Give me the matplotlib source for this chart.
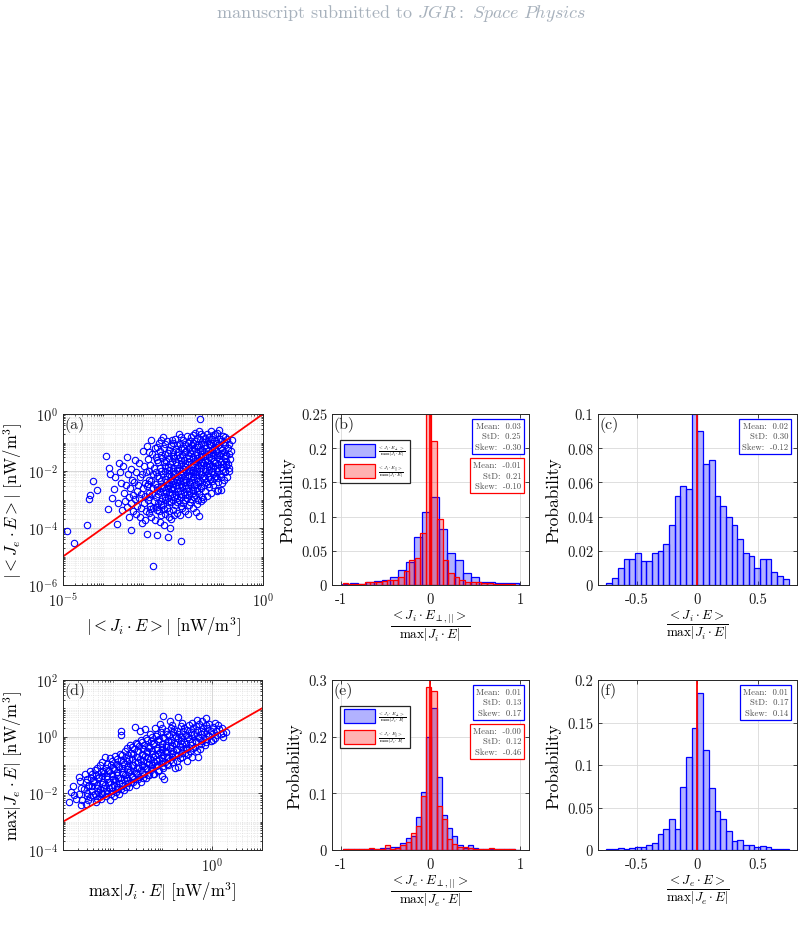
import numpy as np
import matplotlib
matplotlib.use('Agg')
import matplotlib.pyplot as plt
from matplotlib.patches import Patch
from matplotlib.ticker import FuncFormatter, LogLocator, NullFormatter

plt.rcParams['font.family'] = ['cmr10', 'DejaVu Serif']
plt.rcParams['mathtext.fontset'] = 'cm'
plt.rcParams['axes.unicode_minus'] = False
plt.rcParams['axes.formatter.use_mathtext'] = True

# ---------------- data ----------------
# (a) scatter, log10 of |<Ji.E>| and |<Je.E>|  [nW/m^3]
a_log_pts = [
    (-4.89, -4.12), (-4.73, -4.52), (-4.40, -3.90), (-4.33, -2.85), (-4.25, -2.35), (-4.14, -2.65), (-4.36, -2.97),
    (-3.92, -1.46), (-3.85, -1.88), (-3.83, -2.12), (-3.88, -3.34), (-3.65, -3.85), (-3.72, -2.62), (-3.77, -2.93),
    (-3.69, -2.21), (-3.61, -1.72), (-3.63, -3.12), (-3.56, -2.41), (-3.58, -2.02), (-3.52, -3.38), (-3.49, -1.84),
    (-3.47, -2.76), (-3.45, -3.04),
    (-3.41, -1.52), (-3.38, -2.12), (-3.43, -2.48), (-3.36, -2.91), (-3.40, -3.28), (-3.35, -3.62),
    (-3.31, -1.93), (-3.27, -2.31), (-3.33, -2.58), (-3.26, -2.83), (-3.29, -3.12), (-3.24, -3.41), (-3.30, -4.08),
    (-3.21, -1.62), (-3.17, -2.03), (-3.23, -2.38), (-3.15, -2.71), (-3.19, -2.98), (-3.14, -3.22), (-3.18, -3.52),
    (-3.11, -1.71), (-3.07, -2.21), (-3.12, -2.49), (-3.05, -2.79), (-3.09, -2.96), (-3.04, -3.31), (-3.08, -3.63),
    (-3.02, -3.82),
    (-3.01, -1.31), (-2.97, -1.82), (-3.02, -2.11), (-2.95, -2.42), (-2.99, -2.61), (-2.94, -2.88), (-2.98, -3.12),
    (-2.93, -3.41), (-2.96, -3.72),
    (-2.91, -1.12), (-2.87, -1.58), (-2.92, -2.02), (-2.85, -2.31), (-2.89, -2.53), (-2.84, -2.77), (-2.88, -3.01),
    (-2.83, -3.22), (-2.86, -3.48), (-2.90, -4.21),
    (-2.81, -0.91), (-2.77, -1.42), (-2.82, -1.79), (-2.75, -2.12), (-2.79, -2.36), (-2.74, -2.58), (-2.78, -2.82),
    (-2.73, -3.06), (-2.76, -3.29), (-2.80, -3.61), (-2.64, -4.24),
    (-2.71, -1.21), (-2.67, -1.52), (-2.72, -1.88), (-2.65, -2.19), (-2.69, -2.44), (-2.64, -2.66), (-2.68, -2.91),
    (-2.63, -3.11), (-2.66, -3.36), (-2.70, -3.71), (-2.75, -5.34),
    (-2.61, -1.02), (-2.57, -1.31), (-2.62, -1.69), (-2.55, -2.01), (-2.59, -2.24), (-2.54, -2.51), (-2.58, -2.71),
    (-2.53, -2.94), (-2.56, -3.16), (-2.60, -3.41), (-2.57, -3.79),
    (-2.51, -0.82), (-2.47, -1.19), (-2.52, -1.56), (-2.45, -1.84), (-2.49, -2.11), (-2.44, -2.29), (-2.48, -2.56),
    (-2.43, -2.74), (-2.46, -3.01), (-2.50, -3.19), (-2.45, -3.52), (-2.48, -3.91),
    (-2.41, -0.96), (-2.37, -1.36), (-2.42, -1.64), (-2.35, -1.96), (-2.39, -2.19), (-2.34, -2.41), (-2.38, -2.61),
    (-2.33, -2.84), (-2.36, -3.06), (-2.40, -3.29), (-2.35, -3.61), (-2.37, -4.32),
    (-2.27, -0.91), (-2.31, -1.09), (-2.26, -1.46), (-2.32, -1.74), (-2.25, -2.01), (-2.29, -2.19), (-2.24, -2.46),
    (-2.28, -2.64), (-2.23, -2.91), (-2.30, -3.09), (-2.26, -3.36), (-2.29, -3.69), (-2.33, -4.01),
    (-2.21, -0.86), (-2.17, -1.24), (-2.22, -1.56), (-2.15, -1.79), (-2.19, -2.06), (-2.14, -2.31), (-2.18, -2.49),
    (-2.13, -2.71), (-2.16, -2.94), (-2.20, -3.21), (-2.15, -3.49),
    (-2.11, -0.71), (-2.07, -1.06), (-2.12, -1.34), (-2.05, -1.61), (-2.09, -1.89), (-2.04, -2.11), (-2.08, -2.34),
    (-2.03, -2.56), (-2.06, -2.79), (-2.10, -3.01), (-2.05, -3.24), (-2.08, -3.56),
    (-2.01, -0.91), (-1.97, -1.21), (-2.02, -1.44), (-1.95, -1.71), (-1.99, -1.94), (-1.94, -2.16), (-1.98, -2.39),
    (-1.93, -2.61), (-1.96, -2.84), (-2.00, -3.11), (-1.95, -3.39), (-2.04, -4.47),
    (-1.91, -0.76), (-1.87, -1.01), (-1.92, -1.29), (-1.85, -1.56), (-1.89, -1.74), (-1.84, -2.01), (-1.88, -2.19),
    (-1.83, -2.46), (-1.86, -2.69), (-1.90, -2.96), (-1.85, -3.19), (-1.88, -3.51),
    (-1.81, -0.81), (-1.77, -1.09), (-1.82, -1.36), (-1.75, -1.59), (-1.79, -1.86), (-1.74, -2.04), (-1.78, -2.31),
    (-1.73, -2.49), (-1.76, -2.76), (-1.80, -2.99), (-1.75, -3.31),
    (-1.71, -0.66), (-1.67, -0.94), (-1.72, -1.21), (-1.65, -1.44), (-1.69, -1.66), (-1.64, -1.89), (-1.68, -2.11),
    (-1.63, -2.34), (-1.66, -2.61), (-1.70, -2.84), (-1.65, -3.16), (-1.68, -3.44),
    (-1.61, -0.61), (-1.57, -0.89), (-1.62, -1.16), (-1.55, -1.39), (-1.59, -1.61), (-1.54, -1.79), (-1.58, -2.01),
    (-1.53, -2.24), (-1.56, -2.51), (-1.60, -2.79), (-1.55, -3.06), (-1.60, -3.58), (-1.58, -0.19),
    (-1.51, -0.76), (-1.47, -0.99), (-1.52, -1.26), (-1.45, -1.49), (-1.49, -1.71), (-1.44, -1.94), (-1.48, -2.16),
    (-1.43, -2.39), (-1.46, -2.71), (-1.50, -2.99),
    (-1.41, -0.71), (-1.37, -0.94), (-1.42, -1.21), (-1.35, -1.39), (-1.39, -1.66), (-1.34, -1.84), (-1.38, -2.06),
    (-1.33, -2.29), (-1.36, -2.56), (-1.40, -2.89),
    (-1.31, -0.61), (-1.27, -0.86), (-1.32, -1.09), (-1.25, -1.36), (-1.29, -1.54), (-1.24, -1.81), (-1.28, -1.99),
    (-1.23, -2.26), (-1.26, -2.49), (-1.30, -2.76),
    (-1.21, -0.71), (-1.17, -0.94), (-1.22, -1.21), (-1.15, -1.44), (-1.19, -1.71), (-1.14, -1.89), (-1.18, -2.16),
    (-1.13, -2.39), (-1.16, -2.71), (-1.12, -2.65),
    (-1.11, -0.56), (-1.07, -0.86), (-1.12, -1.09), (-1.05, -1.36), (-1.09, -1.59), (-1.04, -1.86), (-1.08, -2.09),
    (-1.03, -2.41), (-1.06, -2.66),
    (-1.01, -0.76), (-0.97, -0.99), (-1.02, -1.26), (-0.95, -1.49), (-0.99, -1.76), (-0.94, -1.99), (-0.98, -2.31),
    (-0.91, -0.89), (-0.87, -1.21), (-0.92, -1.44), (-0.92, -1.64), (-0.85, -1.91), (-0.89, -2.21),
    (-0.77, -0.91), (-0.81, -1.31), (-0.83, -1.59),
    # denser core
    (-2.86, -1.35), (-2.84, -2.0), (-2.87, -2.45), (-2.85, -2.9), (-2.83, -3.35),
    (-2.66, -1.15), (-2.64, -1.6), (-2.67, -2.05), (-2.65, -2.55), (-2.63, -2.8), (-2.66, -3.25),
    (-2.56, -0.9), (-2.54, -1.45), (-2.57, -1.9), (-2.55, -2.35), (-2.53, -2.6), (-2.56, -3.05), (-2.54, -3.55),
    (-2.46, -1.05), (-2.44, -1.4), (-2.47, -1.7), (-2.45, -2.0), (-2.43, -2.4), (-2.46, -2.65), (-2.44, -2.9),
    (-2.47, -3.35),
    (-2.36, -1.25), (-2.34, -1.55), (-2.37, -1.85), (-2.35, -2.1), (-2.33, -2.3), (-2.36, -2.5), (-2.34, -2.75),
    (-2.37, -2.95), (-2.35, -3.4),
    (-2.26, -1.0), (-2.24, -1.35), (-2.27, -1.65), (-2.25, -1.9), (-2.23, -2.1), (-2.26, -2.35), (-2.24, -2.55),
    (-2.27, -2.8), (-2.25, -3.0), (-2.23, -3.55),
    (-2.16, -1.1), (-2.14, -1.45), (-2.17, -1.7), (-2.15, -1.95), (-2.13, -2.2), (-2.16, -2.4), (-2.14, -2.6),
    (-2.17, -2.85), (-2.15, -3.1),
    (-2.06, -0.8), (-2.04, -1.2), (-2.07, -1.5), (-2.05, -1.75), (-2.03, -2.0), (-2.06, -2.25), (-2.04, -2.45),
    (-2.07, -2.7), (-2.05, -2.9), (-2.03, -3.3),
    (-1.96, -1.05), (-1.94, -1.35), (-1.97, -1.6), (-1.95, -1.85), (-1.93, -2.05), (-1.96, -2.3), (-1.94, -2.5),
    (-1.97, -2.75), (-1.95, -3.0),
    (-1.86, -0.95), (-1.84, -1.2), (-1.87, -1.45), (-1.85, -1.7), (-1.83, -1.95), (-1.86, -2.15), (-1.84, -2.4),
    (-1.87, -2.6), (-1.85, -2.85), (-1.83, -3.1),
    (-1.76, -0.75), (-1.74, -1.0), (-1.77, -1.25), (-1.75, -1.5), (-1.73, -1.75), (-1.76, -1.95), (-1.74, -2.2),
    (-1.77, -2.4), (-1.75, -2.65), (-1.73, -2.9),
    (-1.66, -0.85), (-1.64, -1.1), (-1.67, -1.35), (-1.65, -1.55), (-1.63, -1.8), (-1.66, -2.0), (-1.64, -2.25),
    (-1.67, -2.45), (-1.65, -2.7), (-1.63, -3.0),
    (-1.56, -0.7), (-1.54, -1.05), (-1.57, -1.3), (-1.55, -1.5), (-1.53, -1.7), (-1.56, -1.9), (-1.54, -2.1),
    (-1.57, -2.35), (-1.55, -2.6), (-1.53, -2.9),
    (-1.46, -0.85), (-1.44, -1.1), (-1.47, -1.35), (-1.45, -1.6), (-1.43, -1.8), (-1.46, -2.0), (-1.44, -2.25),
    (-1.47, -2.5),
    (-1.36, -0.8), (-1.34, -1.05), (-1.37, -1.3), (-1.35, -1.5), (-1.33, -1.75), (-1.36, -1.95), (-1.34, -2.2),
    (-1.37, -2.45),
    (-1.26, -0.75), (-1.24, -1.0), (-1.27, -1.25), (-1.25, -1.45), (-1.23, -1.65), (-1.26, -1.9), (-1.24, -2.1),
    (-1.27, -2.35),
    (-1.16, -0.65), (-1.14, -1.0), (-1.17, -1.3), (-1.15, -1.5), (-1.13, -1.75), (-1.16, -2.0), (-1.14, -2.25),
    (-1.06, -0.95), (-1.04, -1.2), (-1.07, -1.45), (-1.05, -1.7), (-1.03, -1.95), (-1.06, -2.2),
    (-0.96, -0.8), (-0.94, -1.1), (-0.97, -1.35), (-0.95, -1.55), (-0.93, -1.8), (-0.96, -2.05),
    (-0.86, -1.05), (-0.84, -1.4), (-0.87, -1.75), (-0.85, -2.0),
]

# (d) scatter, log10 of max|Ji.E| and max|Je.E|  [nW/m^3]
d_log_pts = [
    (-2.88, -2.32), (-2.84, -1.96),
    (-2.68, -1.41), (-2.79, -1.75), (-2.77, -2.06), (-2.73, -2.21),
    (-2.66, -1.56), (-2.63, -1.81), (-2.67, -2.01), (-2.61, -2.24), (-2.64, -2.41),
    (-2.56, -1.31), (-2.53, -1.61), (-2.57, -1.86), (-2.52, -2.09), (-2.54, -2.38),
    (-2.46, -1.21), (-2.43, -1.46), (-2.47, -1.69), (-2.42, -1.91), (-2.45, -2.14), (-2.33, -2.32),
    (-2.36, -1.16), (-2.33, -1.36), (-2.37, -1.59), (-2.32, -1.81), (-2.35, -2.01), (-2.31, -2.19),
    (-2.26, -1.01), (-2.23, -1.26), (-2.27, -1.44), (-2.22, -1.66), (-2.25, -1.86), (-2.21, -2.04), (-2.24, -2.21),
    (-2.16, -0.71), (-2.13, -1.11), (-2.17, -1.29), (-2.12, -1.51), (-2.15, -1.69), (-2.11, -1.91), (-2.14, -2.09),
    (-2.06, -0.76), (-2.03, -0.99), (-2.07, -1.21), (-2.02, -1.39), (-2.05, -1.61), (-2.01, -1.79), (-2.04, -2.01),
    (-2.06, -2.22),
    (-1.96, -0.69), (-1.93, -0.96), (-1.97, -1.14), (-1.92, -1.36), (-1.95, -1.54), (-1.91, -1.76), (-1.94, -1.94),
    (-1.98, -2.11),
    (-1.83, 0.21), (-1.83, 0.07), (-1.86, -0.61), (-1.83, -0.84), (-1.87, -1.06), (-1.82, -1.24), (-1.85, -1.46),
    (-1.81, -1.64), (-1.84, -1.86), (-1.88, -2.01),
    (-1.76, -0.51), (-1.73, -0.74), (-1.77, -0.96), (-1.72, -1.14), (-1.75, -1.36), (-1.71, -1.54), (-1.74, -1.76),
    (-1.78, -1.89),
    (-1.66, -0.31), (-1.63, -0.56), (-1.67, -0.79), (-1.62, -1.01), (-1.65, -1.19), (-1.61, -1.41), (-1.64, -1.59),
    (-1.68, -1.76),
    (-1.56, 0.33), (-1.53, -0.21), (-1.57, -0.44), (-1.52, -0.71), (-1.55, -0.89), (-1.51, -1.11), (-1.54, -1.29),
    (-1.58, -1.51), (-1.53, -1.69),
    (-1.46, 0.19), (-1.43, -0.11), (-1.47, -0.34), (-1.42, -0.61), (-1.45, -0.79), (-1.41, -1.01), (-1.44, -1.19),
    (-1.48, -1.41), (-1.43, -1.59),
    (-1.36, 0.26), (-1.33, -0.06), (-1.37, -0.29), (-1.32, -0.51), (-1.35, -0.69), (-1.31, -0.91), (-1.34, -1.09),
    (-1.38, -1.31), (-1.33, -1.46),
    (-1.26, 0.09), (-1.23, -0.16), (-1.27, -0.39), (-1.22, -0.61), (-1.25, -0.79), (-1.21, -1.01), (-1.24, -1.19),
    (-1.28, -1.36),
    (-1.16, 0.31), (-1.13, 0.01), (-1.17, -0.24), (-1.12, -0.46), (-1.15, -0.64), (-1.11, -0.86), (-1.14, -1.04),
    (-1.18, -1.31),
    (-1.06, 0.44), (-1.03, 0.16), (-1.07, -0.09), (-1.02, -0.36), (-1.05, -0.54), (-1.01, -0.76), (-1.04, -0.94),
    (-1.08, -1.16), (-1.02, -1.39),
    (-0.99, 0.74), (-0.93, 0.21), (-0.97, -0.04), (-0.92, -0.31), (-0.95, -0.49), (-0.91, -0.71), (-0.94, -0.89),
    (-0.98, -1.11), (-0.96, -1.51),
    (-0.84, 0.56), (-0.83, 0.31), (-0.87, 0.06), (-0.82, -0.19), (-0.85, -0.41), (-0.81, -0.59), (-0.84, -0.81),
    (-0.88, -1.01),
    (-0.76, 0.26), (-0.73, 0.01), (-0.77, -0.24), (-0.72, -0.46), (-0.75, -0.64), (-0.71, -0.86), (-0.74, -1.11),
    (-0.68, 0.71), (-0.63, 0.36), (-0.67, 0.11), (-0.62, -0.16), (-0.65, -0.34), (-0.61, -0.56), (-0.64, -0.76),
    (-0.69, -1.08),
    (-0.56, 0.31), (-0.53, 0.06), (-0.57, -0.19), (-0.52, -0.41), (-0.55, -0.59), (-0.51, -0.86),
    (-0.46, 0.41), (-0.43, 0.16), (-0.47, -0.09), (-0.42, -0.31), (-0.45, -0.49), (-0.41, -0.71),
    (-0.31, 0.60), (-0.33, 0.36), (-0.37, 0.11), (-0.32, -0.16), (-0.35, -0.36), (-0.29, -0.73),
    (-0.26, 0.46), (-0.23, 0.21), (-0.27, -0.04), (-0.22, -0.26), (-0.25, -0.44),
    (-0.12, 0.65), (-0.13, 0.41), (-0.17, 0.16), (-0.12, -0.09), (-0.15, -0.29),
    (-0.06, 0.46), (-0.03, 0.19), (-0.07, 0.01), (-0.02, -0.14),
    (0.05, 0.47), (0.08, 0.21), (0.05, -0.05),
    (0.14, 0.26), (0.17, 0.11), (0.28, 0.18), (0.21, 0.14),
    # denser band
    (-2.51, -1.5), (-2.49, -1.75), (-2.52, -2.0), (-2.50, -2.25),
    (-2.41, -1.3), (-2.39, -1.55), (-2.42, -1.75), (-2.40, -2.05),
    (-2.31, -1.1), (-2.29, -1.45), (-2.32, -1.7), (-2.30, -1.95), (-2.28, -2.1),
    (-2.21, -0.9), (-2.19, -1.2), (-2.22, -1.4), (-2.20, -1.6), (-2.18, -1.8), (-2.21, -2.0),
    (-2.11, -0.95), (-2.09, -1.2), (-2.12, -1.4), (-2.10, -1.6), (-2.08, -1.8), (-2.11, -2.0),
    (-2.01, -0.85), (-1.99, -1.1), (-2.02, -1.3), (-2.00, -1.5), (-1.98, -1.7), (-2.01, -1.9),
    (-1.91, -0.8), (-1.89, -1.05), (-1.92, -1.25), (-1.90, -1.45), (-1.88, -1.65), (-1.91, -1.85),
    (-1.81, -0.65), (-1.79, -0.9), (-1.82, -1.1), (-1.80, -1.3), (-1.78, -1.5), (-1.81, -1.75),
    (-1.71, -0.4), (-1.69, -0.65), (-1.72, -0.85), (-1.70, -1.05), (-1.68, -1.25), (-1.71, -1.45), (-1.69, -1.65),
    (-1.61, -0.35), (-1.59, -0.6), (-1.62, -0.8), (-1.60, -1.0), (-1.58, -1.2), (-1.61, -1.4), (-1.59, -1.6),
    (-1.51, -0.25), (-1.49, -0.5), (-1.52, -0.7), (-1.50, -0.9), (-1.48, -1.1), (-1.51, -1.3), (-1.49, -1.5),
    (-1.41, -0.2), (-1.39, -0.45), (-1.42, -0.65), (-1.40, -0.85), (-1.38, -1.05), (-1.41, -1.25), (-1.39, -1.45),
    (-1.31, -0.1), (-1.29, -0.35), (-1.32, -0.55), (-1.30, -0.75), (-1.28, -0.95), (-1.31, -1.15), (-1.29, -1.35),
    (-1.21, 0.0), (-1.19, -0.25), (-1.22, -0.5), (-1.20, -0.7), (-1.18, -0.9), (-1.21, -1.1), (-1.19, -1.3),
    (-1.11, 0.1), (-1.09, -0.15), (-1.12, -0.4), (-1.10, -0.6), (-1.08, -0.8), (-1.11, -1.0), (-1.09, -1.2),
    (-1.01, 0.3), (-0.99, 0.0), (-1.02, -0.25), (-1.00, -0.45), (-0.98, -0.65), (-1.01, -0.85), (-0.99, -1.05),
    (-0.91, 0.1), (-0.89, -0.15), (-0.92, -0.35), (-0.90, -0.55), (-0.88, -0.75), (-0.91, -0.95),
    (-0.81, 0.4), (-0.79, 0.15), (-0.82, -0.1), (-0.80, -0.3), (-0.78, -0.5), (-0.81, -0.7), (-0.79, -0.9),
    (-0.71, 0.2), (-0.69, -0.05), (-0.72, -0.25), (-0.70, -0.45), (-0.68, -0.65),
    (-0.61, 0.5), (-0.59, 0.2), (-0.62, 0.0), (-0.60, -0.25), (-0.58, -0.45), (-0.61, -0.7),
    (-0.51, 0.25), (-0.49, 0.0), (-0.52, -0.25), (-0.50, -0.45), (-0.48, -0.6),
    (-0.41, 0.5), (-0.39, 0.3), (-0.42, 0.05), (-0.40, -0.2), (-0.38, -0.4),
    (-0.31, 0.25), (-0.29, 0.0), (-0.32, -0.2), (-0.30, -0.5),
    (-0.21, 0.55), (-0.19, 0.3), (-0.22, 0.1), (-0.20, -0.15),
    (-0.11, 0.3), (-0.09, 0.05), (-0.12, -0.2),
    (0.01, 0.35), (-0.01, 0.1), (0.02, -0.1),
    (0.11, 0.4), (0.09, 0.05), (0.19, 0.3), (0.21, 0.0),
]

# (b) ion histograms: perpendicular (blue) and parallel (red)
b_perp_edges = np.linspace(-0.99, 0.99, 23)
b_perp_prob = [0.001, 0.003, 0.002, 0.004, 0.006, 0.008, 0.012, 0.022, 0.033, 0.070, 0.107,
               0.128, 0.082, 0.047, 0.037, 0.018, 0.011, 0.005, 0.004, 0.003, 0.003, 0.003]
b_par_edges = np.linspace(-0.981, 1.003, 33)
b_par_prob = [0.003, 0.001, 0.001, 0.002, 0.004, 0.004, 0.005, 0.006, 0.008, 0.007, 0.011,
              0.020, 0.036, 0.040, 0.076, 0.250, 0.210, 0.097, 0.036, 0.018, 0.012, 0.007,
              0.005, 0.004, 0.004, 0.003, 0.003, 0.002, 0.001, 0.001, 0.001, 0.0]

# (c) ion total histogram
c_edges = np.linspace(-0.75, 0.75, 33)
c_prob = [0.001, 0.004, 0.010, 0.015, 0.015, 0.019, 0.014, 0.014, 0.019, 0.020, 0.024,
          0.035, 0.052, 0.058, 0.056, 0.100, 0.090, 0.071, 0.073, 0.052, 0.046, 0.040,
          0.035, 0.027, 0.019, 0.017, 0.010, 0.015, 0.015, 0.0075, 0.0055, 0.0035]

# (e) electron histograms: perpendicular (blue) and parallel (red)
e_edges = np.linspace(-0.975, 0.997, 35)
e_perp_prob = [0.001, 0.001, 0.001, 0.001, 0.001, 0.002, 0.001, 0.003, 0.003, 0.005, 0.006,
               0.013, 0.022, 0.025, 0.058, 0.103, 0.200, 0.250, 0.128, 0.062, 0.038, 0.025,
               0.008, 0.004, 0.009, 0.003, 0.002, 0.002, 0.001, 0.001, 0.001, 0.001, 0.001, 0.0005]
e_par_prob = [0.001, 0.001, 0.001, 0.002, 0.001, 0.004, 0.001, 0.002, 0.008, 0.002, 0.003,
              0.008, 0.015, 0.030, 0.043, 0.095, 0.287, 0.281, 0.078, 0.054, 0.020, 0.010,
              0.006, 0.005, 0.003, 0.002, 0.001, 0.002, 0.003, 0.001, 0.001, 0.001, 0.001, 0.0005]

# (f) electron total histogram
f_edges = np.linspace(-0.75, 0.75, 33)
f_prob = [0.001, 0.001, 0.002, 0.001, 0.002, 0.003, 0.003, 0.006, 0.008, 0.019, 0.025,
          0.037, 0.025, 0.074, 0.110, 0.144, 0.185, 0.118, 0.073, 0.046, 0.037, 0.022,
          0.011, 0.012, 0.006, 0.006, 0.003, 0.005, 0.003, 0.001, 0.001, 0.001]

# stats printed in the boxes: (mean, std, skew)
b_perp_stats = ('0.03', '0.25', '-0.30')
b_par_stats = ('-0.01', '0.21', '-0.10')
c_stats = ('0.02', '0.30', '-0.12')
e_perp_stats = ('0.01', '0.13', '0.17')
e_par_stats = ('-0.00', '0.12', '-0.46')
f_stats = ('0.01', '0.17', '0.14')

BLUE = (0, 0, 1)
RED = (1, 0, 0)

# ---------------- figure ----------------
W, H = 803, 937
fig = plt.figure(figsize=(W / 100, H / 100), dpi=100)


def add_ax(left, right, top, bottom):
    # pixel box -> figure fraction
    return fig.add_axes([left / W, 1 - bottom / H, (right - left) / W, (bottom - top) / H])


def style(ax):
    ax.tick_params(which='both', direction='in', top=True, right=True, labelsize=10.5,
                   width=0.6, colors='0.15', labelcolor='0.1')
    ax.tick_params(which='major', length=3)
    ax.tick_params(which='minor', length=1.6)
    ax.tick_params(axis='x', pad=5)
    for s in ax.spines.values():
        s.set_linewidth(0.7)
        s.set_color('0.15')
    ax.set_axisbelow(True)


def panel_label(ax, s):
    ax.text(0.008, 0.99, s, transform=ax.transAxes, ha='left', va='top', fontsize=11.5, color='0.15')


def fmt_g(v, pos):
    return '{:g}'.format(v)


def scatter_panel(ax, pts, xlim, ylim, xticks, yticks, xlabel, ylabel, label):
    arr = 10.0 ** np.array(pts)
    ax.set_xscale('log')
    ax.set_yscale('log')
    ax.grid(True, which='major', color='0.82', lw=0.6)
    ax.grid(True, which='minor', color='0.85', lw=0.5, ls=':')
    ax.plot(arr[:, 0], arr[:, 1], 'o', mfc='none', mec='b', ms=4.6, mew=0.8)
    xs = np.array(xlim)
    ax.plot(xs, xs, color='r', lw=1.3)
    ax.set_xlim(xlim)
    ax.set_ylim(ylim)
    ax.set_xticks(xticks)
    ax.set_yticks(yticks)
    ax.xaxis.set_minor_locator(LogLocator(base=10, subs=np.arange(1, 10), numticks=100))
    ax.yaxis.set_minor_locator(LogLocator(base=10, subs=np.arange(1, 10), numticks=100))
    ax.xaxis.set_minor_formatter(NullFormatter())
    ax.yaxis.set_minor_formatter(NullFormatter())
    ax.set_xlabel(xlabel, fontsize=12, labelpad=3)
    ax.set_ylabel(ylabel, fontsize=12, labelpad=2)
    style(ax)
    panel_label(ax, label)


def hist(ax, edges, prob, color):
    ax.bar(edges[:-1], prob, width=np.diff(edges), align='edge',
           facecolor=color + (0.3,), edgecolor=color, linewidth=0.9)


def stats_box(ax, x, y, stats, color):
    txt = 'Mean:  {}\nStD:  {}\nSkew:  {}'.format(*stats)
    ax.text(x, y, txt, transform=ax.transAxes, ha='right', va='top', fontsize=6.3,
            multialignment='right', linespacing=1.3, color='0.3',
            bbox=dict(boxstyle='square,pad=0.35', fc='white', ec=color, lw=0.9))


def hist_panel(ax, xlim, ylim, xticks, yticks, xlabel, label):
    ax.grid(True, color='0.85', lw=0.6)
    ax.axvline(0, color='r', lw=1.3)
    ax.set_xlim(xlim)
    ax.set_ylim(ylim)
    ax.set_xticks(xticks)
    ax.set_yticks(yticks)
    ax.xaxis.set_major_formatter(FuncFormatter(fmt_g))
    ax.yaxis.set_major_formatter(FuncFormatter(fmt_g))
    ax.set_xlabel(xlabel, fontsize=13.5, labelpad=1)
    ax.set_ylabel('Probability', fontsize=12.5, labelpad=4)
    style(ax)
    panel_label(ax, label)


def hist_legend(ax, labels):
    handles = [Patch(facecolor=BLUE + (0.3,), edgecolor=BLUE, lw=0.9),
               Patch(facecolor=RED + (0.3,), edgecolor=RED, lw=0.9)]
    leg = ax.legend(handles, labels, loc='upper left', bbox_to_anchor=(0.025, 0.87), fontsize=5,
                    handlelength=4.4, handleheight=2.7, handletextpad=0.5, borderpad=0.55,
                    labelspacing=0.7, fancybox=False, framealpha=1, edgecolor='0.15')
    leg.get_frame().set_linewidth(0.9)


# (a)
ax_a = add_ax(63, 263, 415, 586)
scatter_panel(ax_a, a_log_pts, (1e-5, 1e0), (1e-6, 1e0), [1e-5, 1e0], [1e-6, 1e-4, 1e-2, 1e0],
              r'$|<J_i\cdot E>|$ [nW/m$^3$]', r'$|<J_e\cdot E>|$ [nW/m$^3$]', '(a)')

# (b)
ax_b = add_ax(332, 529, 415, 586)
hist(ax_b, b_perp_edges, b_perp_prob, BLUE)
hist(ax_b, b_par_edges, b_par_prob, RED)
hist_panel(ax_b, (-1.1, 1.1), (0, 0.25), [-1, 0, 1], [0, 0.05, 0.1, 0.15, 0.2, 0.25],
           r'$\frac{<J_i\cdot E_{\perp,||}>}{\max|J_i\cdot E|}$', '(b)')
hist_legend(ax_b, [r'$\frac{<J_i\cdot E_\perp>}{\max|J_i\cdot E|}$',
                   r'$\frac{<J_i\cdot E_{||}>}{\max|J_i\cdot E|}$'])
stats_box(ax_b, 0.96, 0.955, b_perp_stats, BLUE)
stats_box(ax_b, 0.96, 0.725, b_par_stats, RED)

# (c)
ax_c = add_ax(598, 797, 415, 586)
hist(ax_c, c_edges, c_prob, BLUE)
hist_panel(ax_c, (-0.82, 0.82), (0, 0.1), [-0.5, 0, 0.5], [0, 0.02, 0.04, 0.06, 0.08, 0.1],
           r'$\frac{<J_i\cdot E>}{\max|J_i\cdot E|}$', '(c)')
stats_box(ax_c, 0.955, 0.955, c_stats, BLUE)

# (d)
ax_d = add_ax(63, 262, 681, 851)
scatter_panel(ax_d, d_log_pts, (1e-3, 1e1), (1e-4, 1e2), [1e0], [1e-4, 1e-2, 1e0, 1e2],
              r'$\max|J_i\cdot E|$ [nW/m$^3$]', r'$\max|J_e\cdot E|$ [nW/m$^3$]', '(d)')

# (e)
ax_e = add_ax(332, 529, 681, 851)
hist(ax_e, e_edges, e_perp_prob, BLUE)
hist(ax_e, e_edges, e_par_prob, RED)
hist_panel(ax_e, (-1.1, 1.1), (0, 0.3), [-1, 0, 1], [0, 0.1, 0.2, 0.3],
           r'$\frac{<J_e\cdot E_{\perp,||}>}{\max|J_e\cdot E|}$', '(e)')
hist_legend(ax_e, [r'$\frac{<J_e\cdot E_\perp>}{\max|J_e\cdot E|}$',
                   r'$\frac{<J_e\cdot E_{||}>}{\max|J_e\cdot E|}$'])
stats_box(ax_e, 0.96, 0.955, e_perp_stats, BLUE)
stats_box(ax_e, 0.96, 0.725, e_par_stats, RED)

# (f)
ax_f = add_ax(598, 797, 681, 851)
hist(ax_f, f_edges, f_prob, BLUE)
hist_panel(ax_f, (-0.82, 0.82), (0, 0.2), [-0.5, 0, 0.5], [0, 0.05, 0.1, 0.15, 0.2],
           r'$\frac{<J_e\cdot E>}{\max|J_e\cdot E|}$', '(f)')
stats_box(ax_f, 0.955, 0.955, f_stats, BLUE)

# page header
fig.text(0.5, 1 - 13 / H, r'manuscript submitted to $\mathit{JGR{:}\ Space\ Physics}$',
         ha='center', va='center', fontsize=13, color='#a7b1bc')

fig.savefig('out.png', dpi=100)
